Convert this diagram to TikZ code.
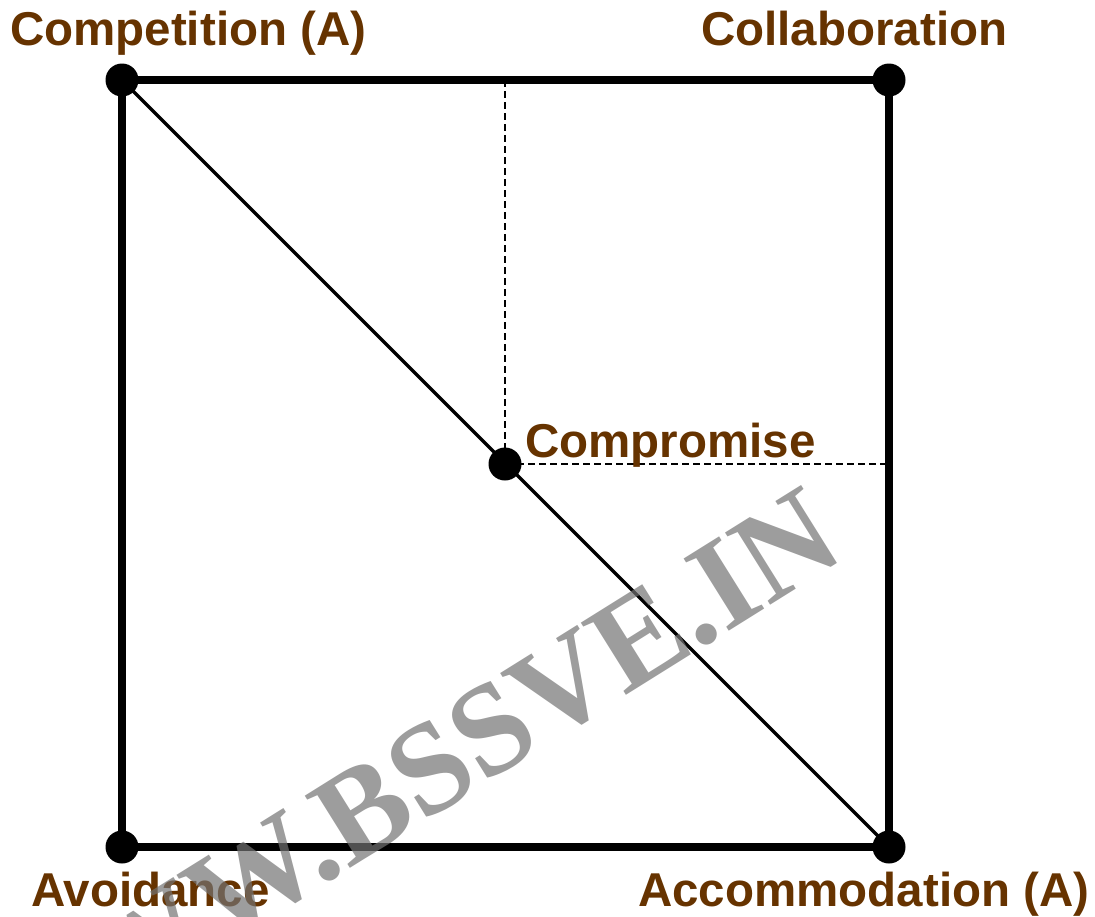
\documentclass[tikz,border=0pt]{standalone}
\usepackage{fontspec}
\setmainfont{Liberation Sans}
\newfontfamily\markfont{Liberation Serif}
\usepackage{tikz}

\definecolor{labelbrown}{RGB}{102,51,0}

\begin{document}
\begin{tikzpicture}[x=1pt,y=-1pt]
	\tikzstyle{vertex}=[circle,fill=black,inner sep=0pt,minimum size=33pt]
	\tikzstyle{mode}=[text=labelbrown,font=\fontsize{47.5}{57}\selectfont\bfseries,inner sep=0pt,anchor=base west]
	\useasboundingbox (0,0) rectangle (1095,916);
	\node[vertex](tl) at (122,80) {};
	\node[vertex](tr) at (889,80) {};
	\node[vertex](bl) at (122,847) {};
	\node[vertex](br) at (889,847) {};
	\node[vertex](mid) at (505,464) {};
	\coordinate (mtop) at (mid |- tl);
	\coordinate (mright) at (tr |- mid);
	\draw[line width=7.5pt] (tl.center) -- (tr.center) -- (br.center) -- (bl.center) -- cycle;
	\draw[line width=3.2pt] (tl.center) -- (br.center);
	\draw[line width=2pt,dash pattern=on 7pt off 4pt] (mtop) -- (mid.center) -- (mright);
	\node[mode](comp) at (10,45) {Competition (A)};
	\node[mode](coll) at (701,45) {Collaboration};
	\node[mode](cpro) at (525,457) {Compromise};
	\node[mode](avoi) at (31,906) {Avoidance};
	\node[mode](acco) at (638,906) {Accommodation (A)};
	% watermark
	\clip (0,0) rectangle (1095,916);
	\node[text=black!55,opacity=0.7,font=\markfont\fontsize{130}{130}\selectfont\bfseries,inner sep=0pt,anchor=base east,rotate=32](mark) at (848,557) {WWW.BSSVE.IN};
\end{tikzpicture}
\end{document}
